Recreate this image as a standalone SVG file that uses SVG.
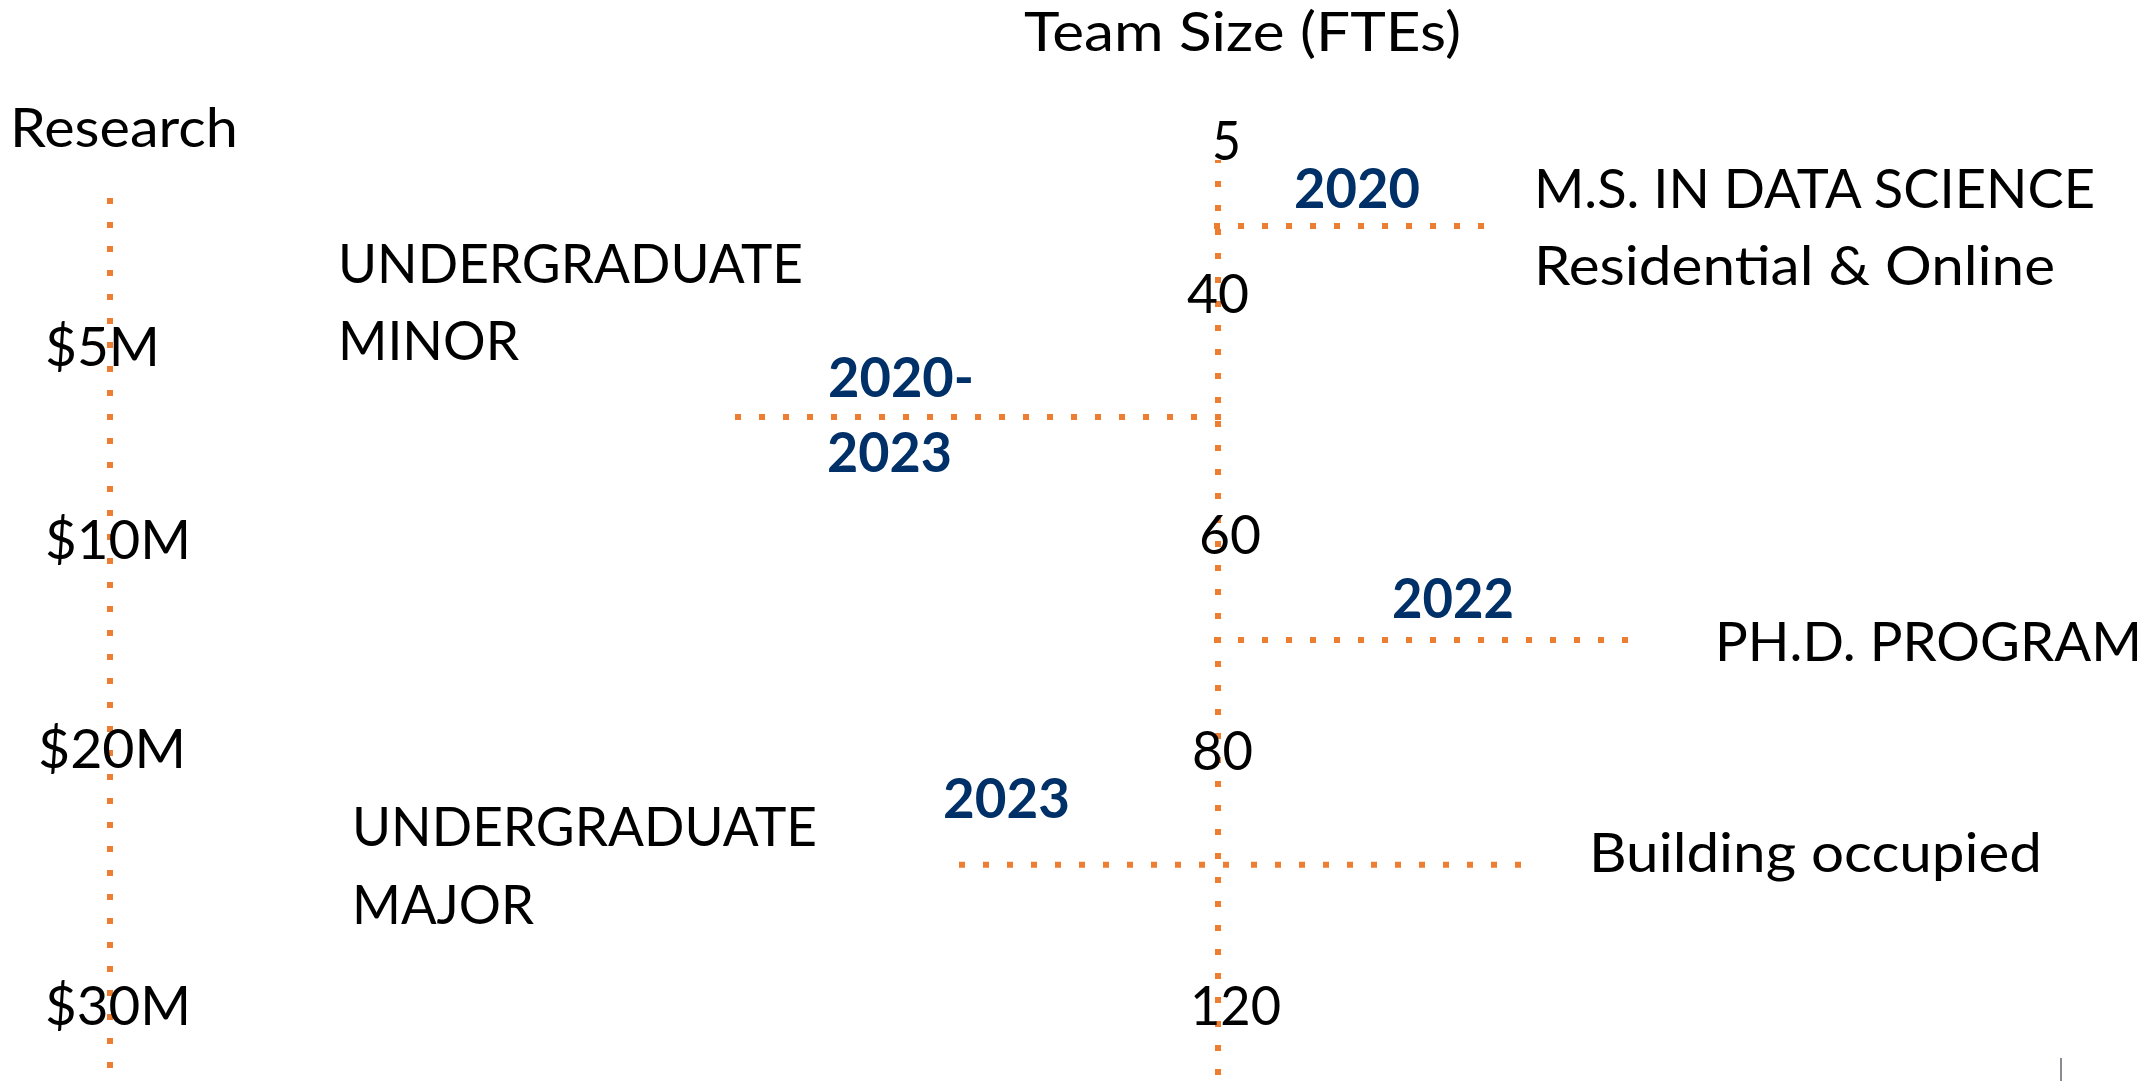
<svg xmlns="http://www.w3.org/2000/svg" width="2151" height="1081" viewBox="0 0 2151 1081">
<style>
.t{font-family:Lato,"Open Sans","DejaVu Sans",sans-serif;font-size:54px;fill:#000}
.y{font-family:Lato,"Open Sans","DejaVu Sans",sans-serif;font-size:55px;font-weight:bold;fill:#003068}
.d{stroke:#ED7D31;stroke-width:6;stroke-dasharray:6 18;fill:none}
</style>
<rect width="2151" height="1081" fill="#fff"/>
<g id="connectors">
<line class="d" x1="110" y1="198" x2="110" y2="1069"/>
<line class="d" x1="1218" y1="160" x2="1218" y2="1076" stroke-dashoffset="3"/>
<line class="d" x1="1214" y1="226" x2="1485" y2="226"/>
<line class="d" x1="735" y1="417" x2="1222" y2="417"/>
<line class="d" x1="1214" y1="640" x2="1629" y2="640"/>
<line class="d" x1="959" y1="864.7" x2="1230" y2="864.7"/>
<line class="d" x1="1251" y1="864.7" x2="1522" y2="864.7"/>
</g>
<g id="axis-team"><text class="t" x="1024" y="51" textLength="437" lengthAdjust="spacingAndGlyphs">Team Size (FTEs)</text></g>
<g id="axis-research"><text class="t" x="10" y="147" textLength="228" lengthAdjust="spacingAndGlyphs">Research</text></g>
<g id="tick-5"><text class="t" x="1212" y="160" textLength="29" lengthAdjust="spacingAndGlyphs">5</text></g>
<g id="tick-40"><text class="t" x="1187" y="313" textLength="62" lengthAdjust="spacingAndGlyphs">40</text></g>
<g id="tick-60"><text class="t" x="1199" y="554" textLength="62" lengthAdjust="spacingAndGlyphs">60</text></g>
<g id="tick-80"><text class="t" x="1192" y="770" textLength="61" lengthAdjust="spacingAndGlyphs">80</text></g>
<g id="tick-120"><text class="t" x="1190" y="1025" textLength="91" lengthAdjust="spacingAndGlyphs">120</text></g>
<g id="tick-5m"><text class="t" x="45" y="366" textLength="115" lengthAdjust="spacingAndGlyphs">$5M</text></g>
<g id="tick-10m"><text class="t" x="45" y="559" textLength="146" lengthAdjust="spacingAndGlyphs">$10M</text></g>
<g id="tick-20m"><text class="t" x="38" y="768" textLength="148" lengthAdjust="spacingAndGlyphs">$20M</text></g>
<g id="tick-30m"><text class="t" x="45" y="1025" textLength="146" lengthAdjust="spacingAndGlyphs">$30M</text></g>
<g id="ms">
<text class="y" x="1294" y="208" textLength="126" lengthAdjust="spacingAndGlyphs">2020</text>
<text class="t" x="1534" y="208" textLength="561" lengthAdjust="spacingAndGlyphs">M.S. IN DATA SCIENCE</text>
<text class="t" x="1534" y="285" textLength="521" lengthAdjust="spacingAndGlyphs">Residential &amp; Online</text>
</g>
<g id="minor">
<text class="t" x="338" y="283" textLength="465" lengthAdjust="spacingAndGlyphs">UNDERGRADUATE</text>
<text class="t" x="338" y="360" textLength="181" lengthAdjust="spacingAndGlyphs">MINOR</text>
<text class="y" x="828" y="397" textLength="146" lengthAdjust="spacingAndGlyphs">2020-</text>
<text class="y" x="827" y="472" textLength="125" lengthAdjust="spacingAndGlyphs">2023</text>
</g>
<g id="phd">
<text class="y" x="1392" y="618" textLength="122" lengthAdjust="spacingAndGlyphs">2022</text>
<text class="t" x="1715" y="661" textLength="427" lengthAdjust="spacingAndGlyphs">PH.D. PROGRAM</text>
</g>
<g id="major">
<text class="t" x="352" y="846" textLength="465" lengthAdjust="spacingAndGlyphs">UNDERGRADUATE</text>
<text class="t" x="352" y="924" textLength="182" lengthAdjust="spacingAndGlyphs">MAJOR</text>
</g>
<g id="building">
<text class="y" x="943" y="818" textLength="127" lengthAdjust="spacingAndGlyphs">2023</text>
<text class="t" x="1589" y="872" textLength="453" lengthAdjust="spacingAndGlyphs">Building occupied</text>
</g>
<line x1="2061" y1="1058" x2="2061" y2="1081" stroke="#8a8a90" stroke-width="2"/>
</svg>
